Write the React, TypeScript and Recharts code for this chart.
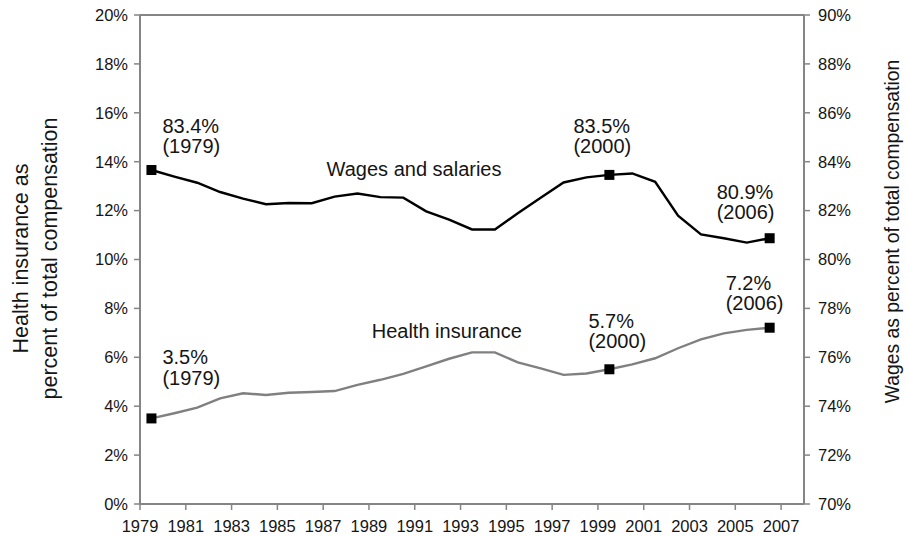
import React from "react";
import { LineChart, Line, XAxis, YAxis, ReferenceLine, ReferenceDot } from "recharts";

// ---- data ----
const years = [
  1979, 1980, 1981, 1982, 1983, 1984, 1985, 1986, 1987, 1988, 1989, 1990, 1991, 1992,
  1993, 1994, 1995, 1996, 1997, 1998, 1999, 2000, 2001, 2002, 2003, 2004, 2005, 2006,
];
const wagesPct = [
  83.66, 83.39, 83.14, 82.76, 82.49, 82.26, 82.31, 82.3, 82.57, 82.7, 82.55, 82.53, 81.97, 81.63,
  81.23, 81.23, 81.89, 82.53, 83.15, 83.36, 83.46, 83.52, 83.18, 81.79, 81.03, 80.87, 80.69, 80.87,
];
const healthPct = [
  3.5, 3.71, 3.94, 4.32, 4.53, 4.46, 4.55, 4.58, 4.62, 4.87, 5.08, 5.32, 5.63, 5.94,
  6.2, 6.2, 5.79, 5.55, 5.28, 5.34, 5.51, 5.71, 5.96, 6.37, 6.73, 6.98, 7.12, 7.21,
];
const markedIndex = [0, 20, 27];
const markedYearLabels = ["1979", "2000", "2006"];
const wagesMarkedValues = [83.4, 83.5, 80.9];
const healthMarkedValues = [3.5, 5.7, 7.2];
const xTicks = [1979, 1981, 1983, 1985, 1987, 1989, 1991, 1993, 1995, 1997, 1999, 2001, 2003, 2005, 2007];
const leftTicks = [0, 2, 4, 6, 8, 10, 12, 14, 16, 18, 20];
const rightTicks = [70, 72, 74, 76, 78, 80, 82, 84, 86, 88, 90];
const seriesNames = ["Wages and salaries", "Health insurance"];
const leftTitle = ["Health insurance as", "percent of total compensation"];
const rightTitle = "Wages as percent of total compensation";
// anchor points (data coords) for series name labels
const wagesNameAnchor = { x: 1987.15, y: 83.42 };
const healthNameAnchor = { x: 1989.12, y: 6.78 };

const data = years.map((year, i) => ({ year, wages: wagesPct[i], health: healthPct[i] }));

// ---- styling/layout ----
const AXIS = "#858585";
const TEXT = "#151515";
const FONT = "'Liberation Sans', Arial, sans-serif";
const wagesLabelOffsets = [
  { dx: 11, dy1: -37, dy2: -17 },
  { dx: -36, dy1: -42, dy2: -22 },
  { dx: -53, dy1: -39, dy2: -19 },
];
const healthLabelOffsets = [
  { dx: 11, dy1: -54, dy2: -33 },
  { dx: -21, dy1: -41, dy2: -21 },
  { dx: -44, dy1: -38, dy2: -18 },
];

function makeDot(values: number[], offsets: { dx: number; dy1: number; dy2: number }[], prefix: string) {
  return (props: any) => {
    const { cx, cy, index } = props;
    const k = markedIndex.indexOf(index);
    if (k < 0 || cx == null || cy == null) return <g key={`${prefix}-${index}`} />;
    const o = offsets[k];
    return (
      <g key={`${prefix}-${index}`}>
        <rect x={cx - 5} y={cy - 5} width={10} height={10} fill="#000" />
        <text x={cx + o.dx} y={cy + o.dy1} fontSize={20} fill={TEXT} textAnchor="start">
          {`${values[k].toFixed(1)}%`}
        </text>
        <text x={cx + o.dx} y={cy + o.dy2} fontSize={20} fill={TEXT} textAnchor="start">
          {`(${markedYearLabels[k]})`}
        </text>
      </g>
    );
  };
}

const LeftTitle = (props: any) => {
  const vb = props.viewBox || {};
  const cy = vb.y + vb.height / 2 - 1;
  return (
    <g>
      <text x={28} y={cy} transform={`rotate(-90, 28, ${cy})`} textAnchor="middle" fontSize={21.5} fill={TEXT}>
        {leftTitle[0]}
      </text>
      <text x={57} y={cy} transform={`rotate(-90, 57, ${cy})`} textAnchor="middle" fontSize={21.5} fill={TEXT}>
        {leftTitle[1]}
      </text>
    </g>
  );
};

const RightTitle = (props: any) => {
  const vb = props.viewBox || {};
  const cy = vb.y + vb.height / 2 - 28;
  const x = 899;
  return (
    <text x={x} y={cy} transform={`rotate(-90, ${x}, ${cy})`} textAnchor="middle" fontSize={19.3} fill={TEXT}>
      {rightTitle}
    </text>
  );
};

export default function App() {
  return (
    <div style={{ position: "absolute", left: 0, top: 0, width: 908, height: 536 }}>
      <LineChart
        width={908}
        height={536}
        data={data}
        margin={{ top: 15, right: 0, bottom: 0, left: 0 }}
        style={{ fontFamily: FONT }}
      >
        <XAxis
          type="number"
          dataKey={(d: any) => d.year + 0.5}
          domain={[1979, 2008]}
          ticks={xTicks}
          allowDecimals
          height={32}
          tickSize={6}
          tickMargin={10.5}
          axisLine={{ stroke: AXIS, strokeWidth: 2 }}
          tickLine={{ stroke: AXIS, strokeWidth: 1.5 }}
          tick={{ fontSize: 16.5, fill: TEXT }}
          interval={0}
        />
        <YAxis
          yAxisId="left"
          domain={[0, 20]}
          ticks={leftTicks}
          width={140}
          tickSize={6}
          tickMargin={6}
          tickFormatter={(v: number) => `${v}%`}
          axisLine={{ stroke: AXIS, strokeWidth: 2 }}
          tickLine={{ stroke: AXIS, strokeWidth: 1.5 }}
          tick={{ fontSize: 16.5, fill: TEXT }}
          interval={0}
          label={{ content: <LeftTitle /> }}
        />
        <YAxis
          yAxisId="right"
          orientation="right"
          domain={[70, 90]}
          ticks={rightTicks}
          width={104}
          tickSize={6}
          tickMargin={8}
          tickFormatter={(v: number) => `${v}%`}
          axisLine={{ stroke: AXIS, strokeWidth: 2 }}
          tickLine={{ stroke: AXIS, strokeWidth: 1.5 }}
          tick={{ fontSize: 16.5, fill: TEXT }}
          interval={0}
          label={{ content: <RightTitle /> }}
        />
        <ReferenceLine yAxisId="left" y={20} stroke={AXIS} strokeWidth={2} />
        <Line
          yAxisId="left"
          type="linear"
          dataKey="health"
          stroke="#808080"
          strokeWidth={2.4}
          dot={makeDot(healthMarkedValues, healthLabelOffsets, "h")}
          activeDot={false}
          isAnimationActive={false}
        />
        <Line
          yAxisId="right"
          type="linear"
          dataKey="wages"
          stroke="#000"
          strokeWidth={2.4}
          dot={makeDot(wagesMarkedValues, wagesLabelOffsets, "w")}
          activeDot={false}
          isAnimationActive={false}
        />
        <ReferenceDot
          yAxisId="right"
          x={wagesNameAnchor.x}
          y={wagesNameAnchor.y}
          r={1}
          shape={(p: any) => (
            <text x={p.cx} y={p.cy} fontSize={20} fill={TEXT} textAnchor="start">
              {seriesNames[0]}
            </text>
          )}
        />
        <ReferenceDot
          yAxisId="left"
          x={healthNameAnchor.x}
          y={healthNameAnchor.y}
          r={1}
          shape={(p: any) => (
            <text x={p.cx} y={p.cy} fontSize={20} fill={TEXT} textAnchor="start">
              {seriesNames[1]}
            </text>
          )}
        />
      </LineChart>
    </div>
  );
}
